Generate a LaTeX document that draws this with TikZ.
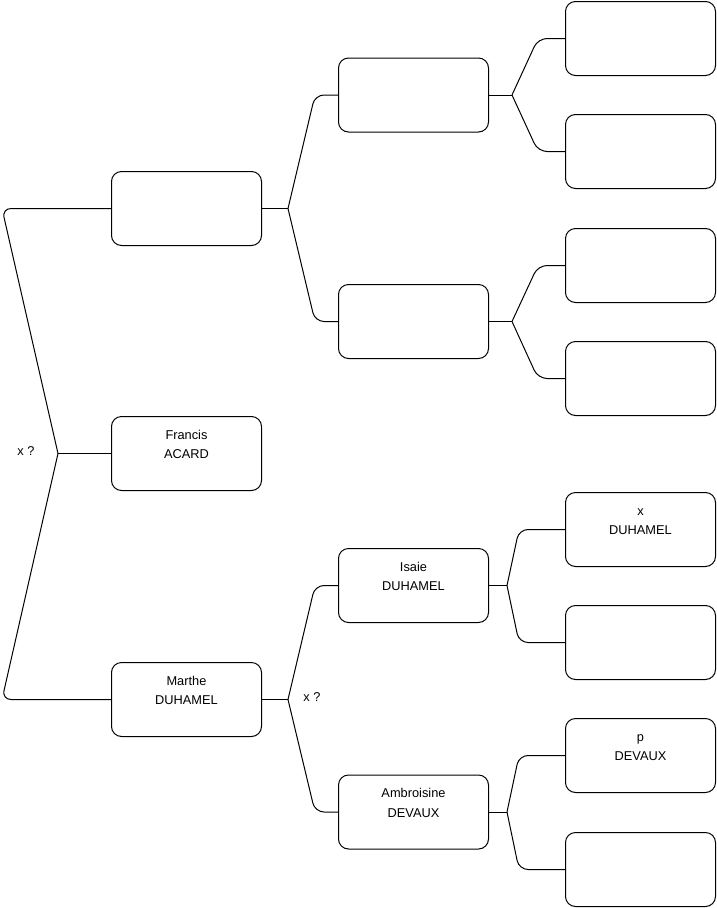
\documentclass[tikz,border=0pt]{standalone}
\usepackage{fontspec}
\setmainfont{Liberation Sans}
\newcommand\twolines[2]{\parbox[c][74pt][t]{150pt}{\centering\baselineskip=19.5pt\rule{0pt}{22.5pt}#1\\#2}}
\begin{document}
\begin{tikzpicture}[x=1pt,y=-1pt,
  every node/.style={font=\fontsize{12.8}{15}\selectfont},
  box/.style={draw, line width=1pt, rounded corners=10pt, minimum width=150pt, minimum height=74pt, inner sep=0pt},
  link/.style={line width=1pt},
  elbow/.style={line width=1pt, rounded corners=9pt}]
\useasboundingbox (0,0) rectangle (716,908);
% level 1
\node[box] (p1) at (186.5,208.5) {};
\node[box] (me) at (186.5,453.5) {\twolines{Francis}{ACARD}};
\node[box] (m1) at (186.5,699.5) {\twolines{Marthe}{DUHAMEL}};
% level 2
\node[box] (p2) at (413.5,95) {};
\node[box] (p3) at (413.5,321.5) {};
\node[box] (m2) at (413.5,585.5) {\twolines{Isaie}{DUHAMEL}};
\node[box] (m3) at (413.5,812) {\twolines{Ambroisine}{DEVAUX}};
% level 3
\node[box] (p4) at (640.5,38.5) {};
\node[box] (p5) at (640.5,151.5) {};
\node[box] (p6) at (640.5,265.5) {};
\node[box] (p7) at (640.5,378.5) {};
\node[box] (m4) at (640.5,529.5) {\twolines{x}{DUHAMEL}};
\node[box] (m5) at (640.5,642.5) {};
\node[box] (m6) at (640.5,755.5) {\twolines{p}{DEVAUX}};
\node[box] (m7) at (640.5,869.5) {};
% junction columns
\coordinate (k0) at (2,0);   \coordinate (j0) at (58,0);
\coordinate (j1) at (288,0); \coordinate (k1) at (315,0);
\coordinate (j2) at (512,0); \coordinate (k2) at (538,0);
\coordinate (j3) at (507,0); \coordinate (k3) at (519,0);
% left fork
\draw[link] (me.west) -- (me.west -| j0);
\draw[elbow] (me.west -| j0) -- (p1.west -| k0) -- (p1.west);
\draw[elbow] (me.west -| j0) -- (m1.west -| k0) -- (m1.west);
% p1 fork
\draw[link] (p1.east) -- (p1.east -| j1);
\draw[elbow] (p1.east -| j1) -- (p2.west -| k1) -- (p2.west);
\draw[elbow] (p1.east -| j1) -- (p3.west -| k1) -- (p3.west);
% m1 fork
\draw[link] (m1.east) -- (m1.east -| j1);
\draw[elbow] (m1.east -| j1) -- (m2.west -| k1) -- (m2.west);
\draw[elbow] (m1.east -| j1) -- (m3.west -| k1) -- (m3.west);
% p2, p3 forks
\draw[link] (p2.east) -- (p2.east -| j2);
\draw[elbow] (p2.east -| j2) -- (p4.west -| k2) -- (p4.west);
\draw[elbow] (p2.east -| j2) -- (p5.west -| k2) -- (p5.west);
\draw[link] (p3.east) -- (p3.east -| j2);
\draw[elbow] (p3.east -| j2) -- (p6.west -| k2) -- (p6.west);
\draw[elbow] (p3.east -| j2) -- (p7.west -| k2) -- (p7.west);
% m2, m3 forks
\draw[link] (m2.east) -- (m2.east -| j3);
\draw[elbow] (m2.east -| j3) -- (m4.west -| k3) -- (m4.west);
\draw[elbow] (m2.east -| j3) -- (m5.west -| k3) -- (m5.west);
\draw[link] (m3.east) -- (m3.east -| j3);
\draw[elbow] (m3.east -| j3) -- (m6.west -| k3) -- (m6.west);
\draw[elbow] (m3.east -| j3) -- (m7.west -| k3) -- (m7.west);
% labels
\node (q1) at (26,451.5) {x ?};
\node (q2) at (312,697.5) {x ?};
\end{tikzpicture}
\end{document}
